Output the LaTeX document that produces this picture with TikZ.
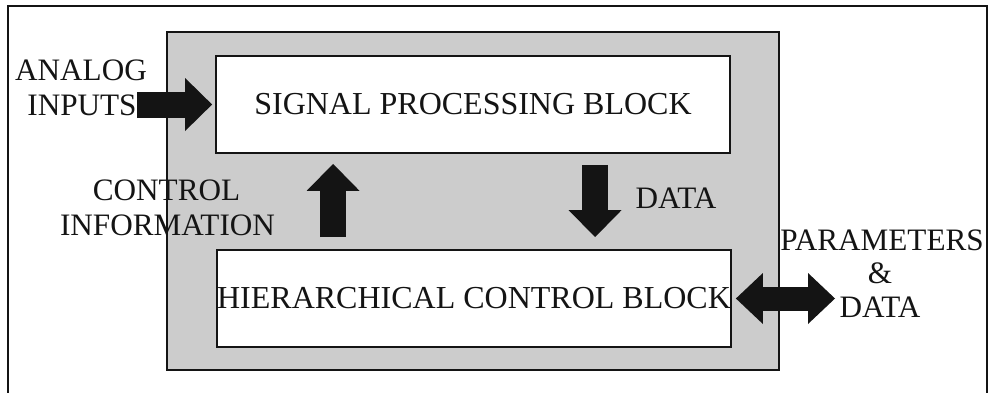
\documentclass[tikz,border=0pt]{standalone}
\usepackage{fontspec}
\setmainfont{Liberation Serif}
\usetikzlibrary{arrows.meta,calc}

\definecolor{panelgray}{gray}{0.80}
\definecolor{inkblack}{gray}{0.08}

\tikzset{
  lbl/.style={font=\fontsize{15.6}{18}\selectfont, inner sep=0pt, anchor=base, text=inkblack},
  blockbox/.style={draw=inkblack, line width=0.9pt, fill=white, inner sep=0pt,
                   minimum width=257pt, minimum height=48.5pt,
                   font=\fontsize{16}{18}\selectfont, text=inkblack},
  fatarrow/.style={draw=inkblack, line width=13pt,
                   -{Triangle[width=26.5pt,length=13.5pt,line width=0pt]}},
  fatdouble/.style={draw=inkblack, line width=12pt,
                   {Triangle[width=25.5pt,length=13.5pt,line width=0pt]}-{Triangle[width=25.5pt,length=13.5pt,line width=0pt]}}
}

\begin{document}
\begin{tikzpicture}[x=0.5pt,y=-0.5pt]
  \useasboundingbox (0,0) rectangle (990,392);

  % outer frame (open at the bottom edge of the page)
  \draw[inkblack, line width=0.9pt] (8,400) -- (8,6) -- (987,6) -- (987,400);

  % shaded system panel
  \node[draw=inkblack, line width=0.8pt, fill=panelgray, inner sep=0pt,
        minimum width=306pt, minimum height=169pt] (panel) at (473,201) {};

  % the two blocks
  \node[blockbox] (sp) at (473,104.5) {SIGNAL PROCESSING BLOCK};
  \node[blockbox] (hc) at (474,298.5) {HIERARCHICAL CONTROL BLOCK};

  % analog inputs
  \node[lbl] (an1) at (81,80) {ANALOG};
  \node[lbl] (an2) at (82,115) {INPUTS};
  \coordinate (ain) at (137,104.5);
  \draw[fatarrow, shorten >=1.5pt] (ain) -- (ain -| sp.west);

  % control information (upwards)
  \node[lbl] (ci1) at (166.5,200) {CONTROL};
  \node[lbl] (ci2) at (167.5,235) {INFORMATION};
  \draw[fatarrow] ([shift={(117,-12)}]hc.north west) -- ([shift={(118,10)}]sp.south west);

  % data (downwards)
  \node[lbl] (dt) at (676,208) {DATA};
  \draw[fatarrow] ([shift={(380,11)}]sp.south west) -- ([shift={(379,-12)}]hc.north west);

  % parameters & data (both ways)
  \node[lbl] (pr1) at (882,250) {PARAMETERS};
  \node[lbl] (pr2) at (880,283) {\&};
  \node[lbl] (pr3) at (880,317) {DATA};
  \coordinate (pd) at (835,298.5);
  \draw[fatdouble, shorten <=2pt] (hc.east) -- (pd);
\end{tikzpicture}
\end{document}
